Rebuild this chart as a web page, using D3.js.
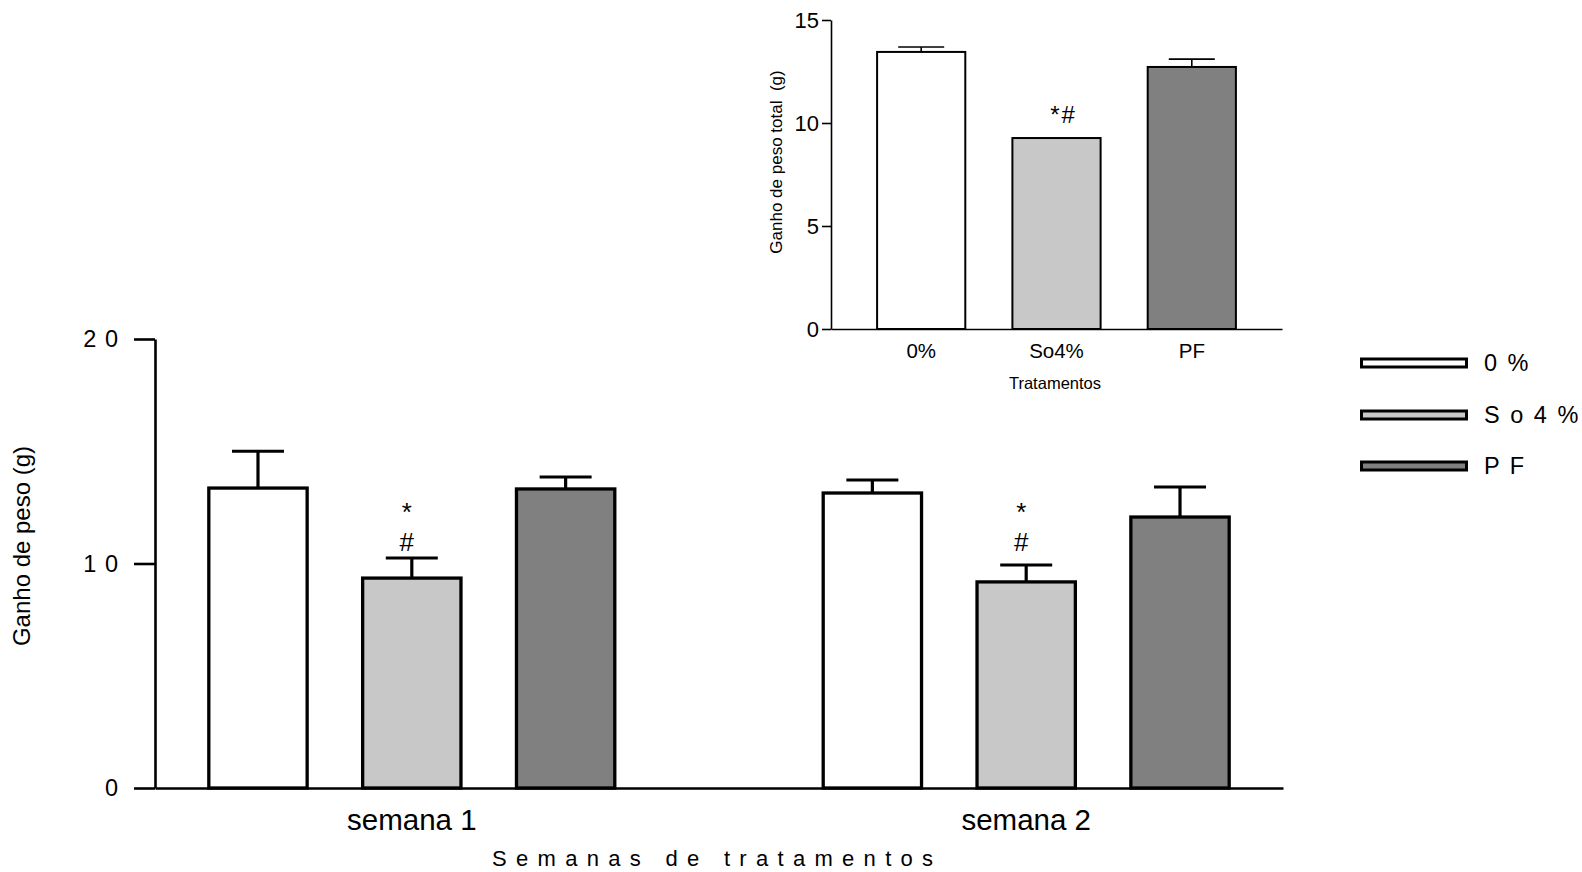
<!DOCTYPE html>
<html>
<head>
<meta charset="utf-8">
<script src="https://cdn.jsdelivr.net/npm/d3@7"></script>
<style>
  body { margin: 0; background: #fff; }
  svg { display: block; font-family: "Liberation Sans", Arial, sans-serif; }
  .axis path, .axis line { stroke: #000; }
</style>
</head>
<body>
<div id="chart-container"></div>
<script>
// Data
var weeks = ['semana 1', 'semana 2']
var groups = ['0%', 'So4%', 'PF']
var colors = ['#ffffff', '#c8c8c8', '#808080']
var week1Mean = [13.36, 9.35, 13.32]
var week1Sem = [1.64, 0.90, 0.53]
var week2Mean = [13.14, 9.18, 12.07]
var week2Sem = [0.58, 0.75, 1.34]
var mainTicks = [0, 10, 20]
var totalMean = [13.45, 9.27, 12.72]
var totalSem = [0.24, 0, 0.38]
var insetTicks = [0, 5, 10, 15]

var WIDTH = 1582
var HEIGHT = 872
var FONT = '"Liberation Sans", Arial, sans-serif'

var svg = d3.select('#chart-container')
  .append('svg')
  .attr('width', WIDTH)
  .attr('height', HEIGHT)

// spread characters like the original ("2 0", "S o 4 %")
function spaced(s) { return String(s).split('').join(' ') }

/*** Main chart ***/
var main = { left: 155, right: 1283, top: 339, bottom: 788 }

var x0 = d3.scaleBand()
  .domain(weeks)
  .range([main.left, main.right])
  .paddingInner(0.334)
  .paddingOuter(0.085)

var x1 = d3.scaleBand()
  .domain(groups)
  .range([0, x0.bandwidth()])
  .paddingInner(0.34)
  .paddingOuter(0)

var y = d3.scaleLinear()
  .domain([0, 20])
  .range([main.bottom, main.top])

var rows = [
  { week: weeks[0], mean: week1Mean, sem: week1Sem },
  { week: weeks[1], mean: week2Mean, sem: week2Sem }
]
var barData = []
rows.forEach(function(r) {
  groups.forEach(function(g, i) {
    barData.push({ week: r.week, group: g, i: i, mean: r.mean[i], sem: r.sem[i] })
  })
})

// error bars (upper only) under the bars
var err = svg.append('g').attr('class', 'errors')
barData.forEach(function(d) {
  var cx = x0(d.week) + x1(d.group) + x1.bandwidth() / 2
  err.append('line')
    .attr('x1', cx).attr('x2', cx)
    .attr('y1', y(d.mean)).attr('y2', y(d.mean + d.sem))
    .attr('stroke', '#000').attr('stroke-width', 3.2)
  err.append('line')
    .attr('x1', cx - 26).attr('x2', cx + 26)
    .attr('y1', y(d.mean + d.sem)).attr('y2', y(d.mean + d.sem))
    .attr('stroke', '#000').attr('stroke-width', 3)
})

svg.append('g').attr('class', 'bars')
  .selectAll('rect')
  .data(barData)
  .enter().append('rect')
    .attr('x', function(d) { return x0(d.week) + x1(d.group) + 1.6 })
    .attr('y', function(d) { return y(d.mean) })
    .attr('width', x1.bandwidth() - 3.2)
    .attr('height', function(d) { return y(0) - y(d.mean) })
    .attr('fill', function(d) { return colors[d.i] })
    .attr('stroke', '#000')
    .attr('stroke-width', 3.3)

// significance marks over So4% ("*" above "#")
weeks.forEach(function(w) {
  var cx = x0(w) + x1('So4%') + x1.bandwidth() / 2 - 5
  svg.append('text').attr('x', cx).attr('y', 521)
    .attr('text-anchor', 'middle').attr('font-size', 26).text('*')
  svg.append('text').attr('x', cx).attr('y', 551)
    .attr('text-anchor', 'middle').attr('font-size', 26).text('#')
})

/* x axis */
var xAxis = svg.append('g')
  .attr('class', 'axis axis--x')
  .attr('transform', 'translate(0,' + main.bottom + ')')
  .call(d3.axisBottom(x0).tickSize(0).tickSizeOuter(0).tickPadding(21))
xAxis.select('.domain').attr('stroke-width', 2.6)
xAxis.selectAll('text')
  .attr('font-size', 29.5).attr('fill', '#000')
  .attr('font-family', FONT)

/* y axis */
var yAxis = svg.append('g')
  .attr('class', 'axis axis--y')
  .attr('transform', 'translate(' + main.left + ',0)')
  .call(d3.axisLeft(y).tickValues(mainTicks).tickSize(21).tickSizeOuter(0)
    .tickPadding(15).tickFormat(spaced))
yAxis.select('.domain').attr('stroke-width', 2.6)
yAxis.selectAll('line').attr('stroke-width', 2.6)
yAxis.selectAll('text')
  .attr('font-size', 23.5).attr('fill', '#000')
  .attr('letter-spacing', 1)
  .attr('font-family', FONT)

svg.append('text')
  .attr('transform', 'translate(30,546) rotate(-90)')
  .attr('text-anchor', 'middle')
  .attr('font-size', 24)
  .text('Ganho de peso (g)')

svg.append('text')
  .attr('x', 492).attr('y', 866)
  .attr('font-size', 22)
  .attr('letter-spacing', 9.3)
  .text('Semanas de tratamentos')

/* legend */
var legend = svg.append('g').attr('class', 'legend')
var legendY = [363, 415, 466]
groups.forEach(function(g, i) {
  legend.append('rect')
    .attr('x', 1361.5).attr('y', legendY[i] - 4)
    .attr('width', 105).attr('height', 8)
    .attr('fill', colors[i])
    .attr('stroke', '#000').attr('stroke-width', 3)
  legend.append('text')
    .attr('x', 1484).attr('y', legendY[i]).attr('dy', '0.36em')
    .attr('font-size', 23.5).attr('letter-spacing', 2)
    .text(spaced(g))
})

/*** Inset chart: total gain ***/
var inset = { left: 831, right: 1282, top: 20, bottom: 329 }

var xi = d3.scaleBand()
  .domain(groups)
  .range([inset.left, inset.right])
  .padding(1 / 3)

var yi = d3.scaleLinear()
  .domain([0, 15])
  .range([inset.bottom, inset.top])

var insetData = groups.map(function(g, i) {
  return { group: g, i: i, mean: totalMean[i], sem: totalSem[i] }
})

var ierr = svg.append('g').attr('class', 'inset-errors')
insetData.filter(function(d) { return d.sem > 0 }).forEach(function(d) {
  var cx = xi(d.group) + xi.bandwidth() / 2
  ierr.append('line')
    .attr('x1', cx).attr('x2', cx)
    .attr('y1', yi(d.mean)).attr('y2', yi(d.mean + d.sem))
    .attr('stroke', '#000').attr('stroke-width', 1.6)
  ierr.append('line')
    .attr('x1', cx - 23).attr('x2', cx + 23)
    .attr('y1', yi(d.mean + d.sem)).attr('y2', yi(d.mean + d.sem))
    .attr('stroke', '#000').attr('stroke-width', 1.6)
})

svg.append('g').attr('class', 'inset-bars')
  .selectAll('rect')
  .data(insetData)
  .enter().append('rect')
    .attr('x', function(d) { return xi(d.group) + 1 })
    .attr('y', function(d) { return yi(d.mean) })
    .attr('width', xi.bandwidth() - 2)
    .attr('height', function(d) { return yi(0) - yi(d.mean) })
    .attr('fill', function(d) { return colors[d.i] })
    .attr('stroke', '#000')
    .attr('stroke-width', 2)

svg.append('text')
  .attr('x', xi('So4%') + xi.bandwidth() / 2 + 7).attr('y', 123)
  .attr('text-anchor', 'middle').attr('font-size', 24)
  .attr('letter-spacing', 2)
  .text('*#')

var xiAxis = svg.append('g')
  .attr('class', 'axis')
  .attr('transform', 'translate(0,' + inset.bottom + ')')
  .call(d3.axisBottom(xi).tickSize(0).tickSizeOuter(0).tickPadding(14.5))
xiAxis.select('.domain').attr('stroke-width', 1.6)
xiAxis.selectAll('text')
  .attr('font-size', 20.5).attr('fill', '#000')
  .attr('font-family', FONT)

var yiAxis = svg.append('g')
  .attr('class', 'axis')
  .attr('transform', 'translate(' + inset.left + ',0)')
  .call(d3.axisLeft(yi).tickValues(insetTicks).tickSize(9).tickSizeOuter(0).tickPadding(3))
yiAxis.select('.domain').attr('stroke-width', 1.6)
yiAxis.selectAll('line').attr('stroke-width', 1.6)
yiAxis.selectAll('text')
  .attr('font-size', 22).attr('fill', '#000')
  .attr('font-family', FONT)

svg.append('text')
  .attr('transform', 'translate(782,162) rotate(-90)')
  .attr('text-anchor', 'middle')
  .attr('font-size', 17)
  .attr('xml:space', 'preserve')
  .text('Ganho de peso total  (g)')

svg.append('text')
  .attr('x', 1055).attr('y', 389)
  .attr('text-anchor', 'middle')
  .attr('font-size', 16.5)
  .text('Tratamentos')
</script>
</body>
</html>
